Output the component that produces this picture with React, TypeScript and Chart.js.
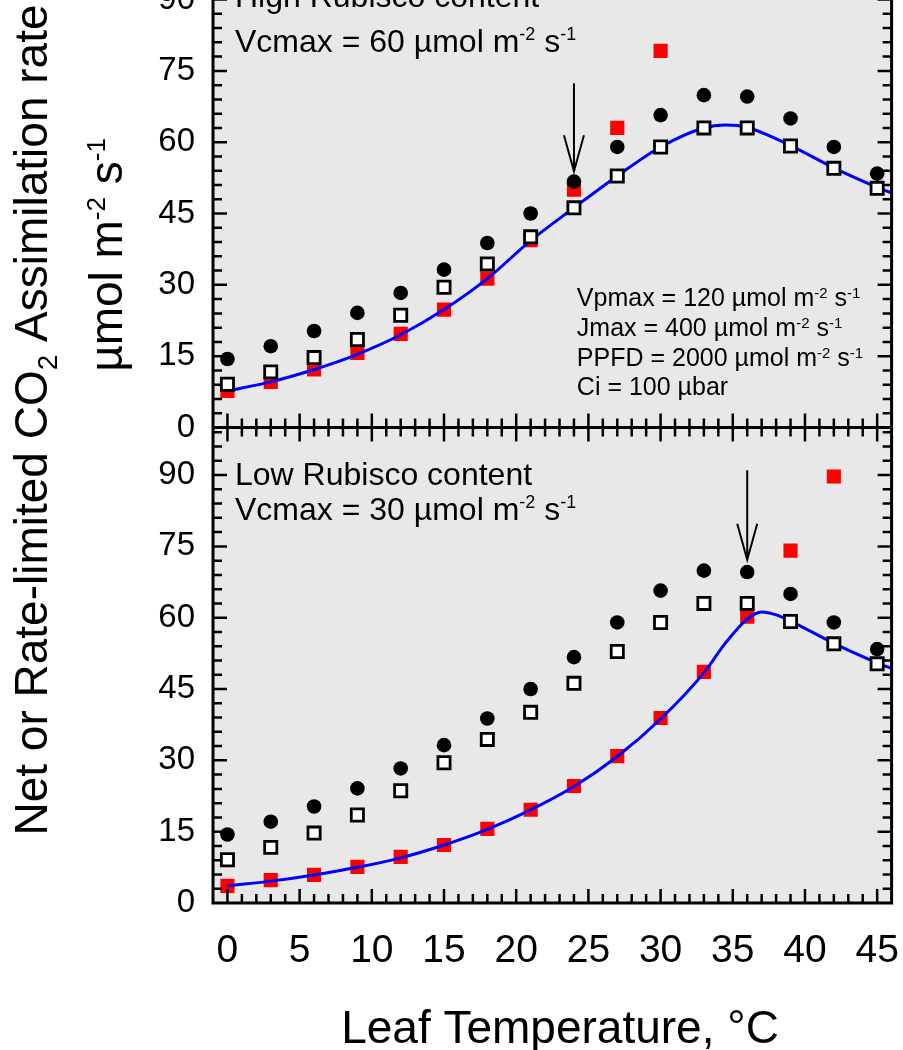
import React, { useEffect, useRef } from 'react';
import { Chart, registerables } from 'chart.js';

Chart.register(...registerables);

const FONT = "'Liberation Sans', Arial, Helvetica, sans-serif";

// ---- data ----
const temps = [0, 3, 6, 9, 12, 15, 18, 21, 24, 27, 30, 33, 36, 39, 42, 45];
const netRate = [14.4, 17.1, 20.3, 24.1, 28.3, 33.2, 38.8, 45.0, 51.7, 59.0, 65.7, 69.9, 69.6, 65.0, 59.0, 53.4];
const otherLimited = [9.1, 11.7, 14.7, 18.5, 23.6, 29.5, 34.4, 40.1, 46.2, 52.9, 59.0, 63.0, 63.0, 59.2, 54.5, 50.3];
const rubiscoHighTemps = [0, 3, 6, 9, 12, 15, 18, 21, 24, 27, 30];
const rubiscoHigh = [7.7, 9.6, 12.2, 15.7, 19.7, 24.8, 31.3, 39.4, 50.0, 63.0, 79.2];
const rubiscoLowTemps = [0, 3, 6, 9, 12, 15, 18, 21, 24, 27, 30, 33, 36, 39, 42];
const rubiscoLow = [3.6, 4.8, 5.9, 7.6, 9.7, 12.2, 15.6, 19.6, 24.6, 30.9, 38.9, 48.6, 60.2, 74.1, 89.7];
const modelHighTemps = [0, 3, 6, 9, 12, 15, 18, 21, 24, 27, 30, 33, 34.5, 36, 39, 42, 45, 46];
const modelHigh = [7.7, 9.6, 12.2, 15.4, 19.5, 24.8, 31.3, 39.3, 46.2, 52.9, 59.0, 63.0, 63.6, 63.1, 59.3, 54.6, 50.5, 49.3];
const modelLowTemps = [0, 3, 6, 9, 12, 15, 18, 21, 24, 27, 30, 33, 34.5, 36, 37, 38, 39, 42, 45, 46];
const modelLow = [3.6, 4.6, 5.9, 7.5, 9.5, 12.2, 15.5, 19.6, 24.5, 30.8, 38.7, 48.4, 54.7, 59.7, 61.2, 60.6, 59.3, 54.6, 50.5, 49.3];

const xTickValues = [0, 5, 10, 15, 20, 25, 30, 35, 40, 45];
const yTickValues = [0, 15, 30, 45, 60, 75, 90];

// arrows: [temperature, from value, to value]
const arrowHigh = [24, 72.4, 53.9];
const arrowLow = [36, 91.0, 72.2];

const labelHigh = ['High Rubisco content', 'Vcmax = 60 µmol m'];
const labelLow = ['Low Rubisco content', 'Vcmax = 30 µmol m'];
const paramLines = ['Vpmax = 120 µmol m', 'Jmax = 400 µmol m', 'PPFD = 2000 µmol m', 'Ci = 100 µbar'];

const xy = (xsArr: number[], ys: number[]) => xsArr.map((x, i) => ({ x, y: ys[i] }));

type Seg = { t: string; s: number; dy?: number };
function drawSegs(ctx: CanvasRenderingContext2D, segs: Seg[], x: number, y: number, align: 'left' | 'center') {
  let w = 0;
  const ws = segs.map((g) => {
    ctx.font = `${g.s}px ${FONT}`;
    const m = ctx.measureText(g.t).width;
    w += m;
    return m;
  });
  let cx = align === 'center' ? x - w / 2 : x;
  ctx.textAlign = 'left';
  ctx.textBaseline = 'alphabetic';
  segs.forEach((g, i) => {
    ctx.font = `${g.s}px ${FONT}`;
    ctx.fillText(g.t, cx, y + (g.dy || 0));
    cx += ws[i];
  });
}

const zeroPad = (s: any) => {
  s.paddingTop = 0;
  s.paddingBottom = 0;
  s.paddingLeft = 0;
  s.paddingRight = 0;
};

const framePlugin = {
  id: 'framePlugin',
  beforeDatasetsDraw(chart: any) {
    const { ctx, chartArea: a } = chart;
    ctx.save();
    ctx.fillStyle = '#e8e8e8';
    ctx.fillRect(a.left, a.top, a.right - a.left, a.bottom - a.top);
    ctx.restore();
  },
  afterDatasetsDraw(chart: any) {
    const { ctx, chartArea: a } = chart;
    const xs = chart.scales.x;
    const yt = chart.scales.yTop;
    const yb = chart.scales.yBot;
    ctx.save();
    ctx.strokeStyle = '#000';
    ctx.fillStyle = '#000';

    // arrows
    ctx.lineWidth = 2;
    const drawArrow = (arr: number[], s: any) => {
      const x = xs.getPixelForValue(arr[0]);
      const y0 = s.getPixelForValue(arr[1]);
      const y1 = s.getPixelForValue(arr[2]);
      ctx.beginPath();
      ctx.moveTo(x, y0);
      ctx.lineTo(x, y1);
      ctx.moveTo(x - 10, y1 - 36);
      ctx.lineTo(x, y1);
      ctx.lineTo(x + 10, y1 - 36);
      ctx.stroke();
    };
    drawArrow(arrowHigh, yt);
    drawArrow(arrowLow, yb);

    // y ticks
    ctx.lineWidth = 2.5;
    ctx.beginPath();
    [yt, yb].forEach((s: any) => {
      for (let v = 3; v < 100; v += 3) {
        const len = v % 15 === 0 ? 14 : 9;
        const y = s.getPixelForValue(v);
        ctx.moveTo(a.left, y);
        ctx.lineTo(a.left + len, y);
        ctx.moveTo(a.right, y);
        ctx.lineTo(a.right - len, y);
      }
    });
    // x ticks
    const mid = yb.top;
    for (let t = 0; t <= 45; t++) {
      const len = t % 5 === 0 ? 14 : 9;
      const x = xs.getPixelForValue(t);
      ctx.moveTo(x, a.bottom);
      ctx.lineTo(x, a.bottom - len);
      ctx.moveTo(x, mid - len);
      ctx.lineTo(x, mid + len);
      ctx.moveTo(x, a.top);
      ctx.lineTo(x, a.top + len);
    }
    ctx.stroke();

    // frame
    ctx.lineWidth = 3;
    ctx.strokeRect(a.left, a.top, a.right - a.left, a.bottom - a.top);
    ctx.beginPath();
    ctx.moveTo(a.left, mid);
    ctx.lineTo(a.right, mid);
    ctx.stroke();

    // panel labels
    const lx = a.left + 22;
    drawSegs(ctx, [{ t: labelHigh[0], s: 32 }], lx, yt.getPixelForValue(88.4), 'left');
    drawSegs(ctx, [{ t: labelHigh[1], s: 32 }, { t: '-2', s: 18, dy: -12 }, { t: ' s', s: 32 }, { t: '-1', s: 18, dy: -12 }], lx, yt.getPixelForValue(79.0), 'left');
    drawSegs(ctx, [{ t: labelLow[0], s: 32 }], lx, yb.getPixelForValue(87.9), 'left');
    drawSegs(ctx, [{ t: labelLow[1], s: 32 }, { t: '-2', s: 18, dy: -12 }, { t: ' s', s: 32 }, { t: '-1', s: 18, dy: -12 }], lx, yb.getPixelForValue(80.6), 'left');

    // parameter box
    const px = xs.getPixelForValue(24.2);
    const pv = [25.6, 19.3, 13.0, 6.8];
    paramLines.forEach((t, i) => {
      const segs: Seg[] = i < 3
        ? [{ t, s: 25 }, { t: '-2', s: 15, dy: -8 }, { t: ' s', s: 25 }, { t: '-1', s: 15, dy: -8 }]
        : [{ t, s: 25 }];
      drawSegs(ctx, segs, px, yt.getPixelForValue(pv[i]), 'left');
    });
    ctx.restore();
  },
  afterDraw(chart: any) {
    const { ctx } = chart;
    ctx.save();
    ctx.fillStyle = '#000';
    // x title
    drawSegs(ctx, [{ t: 'Leaf Temperature, °C', s: 46 }], 560, 1103, 'center');
    // y title
    ctx.translate(47, 480);
    ctx.rotate(-Math.PI / 2);
    drawSegs(ctx, [{ t: 'Net or Rate-limited CO', s: 46 }, { t: '2', s: 28, dy: 10 }, { t: ' Assimilation rate', s: 46 }], 0, 0, 'center');
    ctx.restore();
    ctx.save();
    ctx.fillStyle = '#000';
    ctx.translate(122, 315);
    ctx.rotate(-Math.PI / 2);
    drawSegs(ctx, [{ t: 'µmol m', s: 46 }, { t: '-2', s: 26, dy: -17 }, { t: ' s', s: 46 }, { t: '-1', s: 26, dy: -17 }], 0, 0, 'center');
    ctx.restore();
  },
};

const yScale = () => ({
  type: 'linear',
  min: 0,
  max: 100,
  position: 'left',
  stack: 'panels',
  stackWeight: 1,
  afterBuildTicks: (s: any) => {
    s.ticks = yTickValues.map((v) => ({ value: v }));
  },
  afterFit: (s: any) => {
    s.width = 213;
    zeroPad(s);
  },
  grid: { display: false, drawTicks: false },
  border: { display: false },
  ticks: { font: { family: FONT, size: 33 }, color: '#000', padding: 18, autoSkip: false },
});

export default function App() {
  const ref = useRef<HTMLCanvasElement>(null);
  useEffect(() => {
    const chart = new Chart(ref.current as HTMLCanvasElement, {
      type: 'scatter',
      data: {
        datasets: [
          // top panel
          { data: xy(temps, netRate), yAxisID: 'yTop', order: 0, pointStyle: 'circle', pointRadius: 7.3, backgroundColor: '#000', borderWidth: 0 },
          { data: xy(temps, otherLimited), yAxisID: 'yTop', order: 1, pointStyle: 'rect', pointRadius: 8.6, backgroundColor: '#fff', borderColor: '#000', borderWidth: 2.8 },
          { data: xy(modelHighTemps, modelHigh), yAxisID: 'yTop', order: 2, showLine: true, pointRadius: 0, borderColor: '#0000ff', borderWidth: 3, cubicInterpolationMode: 'monotone' },
          { data: xy(rubiscoHighTemps, rubiscoHigh), yAxisID: 'yTop', order: 3, pointStyle: 'rect', pointRadius: 10, backgroundColor: '#ff0000', borderWidth: 0 },
          // bottom panel
          { data: xy(temps, netRate), yAxisID: 'yBot', order: 0, pointStyle: 'circle', pointRadius: 7.3, backgroundColor: '#000', borderWidth: 0 },
          { data: xy(temps, otherLimited), yAxisID: 'yBot', order: 1, pointStyle: 'rect', pointRadius: 8.6, backgroundColor: '#fff', borderColor: '#000', borderWidth: 2.8 },
          { data: xy(modelLowTemps, modelLow), yAxisID: 'yBot', order: 2, showLine: true, pointRadius: 0, borderColor: '#0000ff', borderWidth: 3, cubicInterpolationMode: 'monotone' },
          { data: xy(rubiscoLowTemps, rubiscoLow), yAxisID: 'yBot', order: 3, pointStyle: 'rect', pointRadius: 10, backgroundColor: '#ff0000', borderWidth: 0 },
        ] as any,
      },
      options: {
        responsive: false,
        animation: false,
        events: [],
        layout: { padding: { left: 0, right: 7, top: 12, bottom: 0 } },
        plugins: { legend: { display: false }, tooltip: { enabled: false } },
        elements: { point: { hoverRadius: 0 } },
        scales: {
          x: {
            type: 'linear',
            min: -1,
            max: 46,
            position: 'bottom',
            afterBuildTicks: (s: any) => {
              s.ticks = xTickValues.map((v) => ({ value: v }));
            },
            afterFit: (s: any) => {
              s.height = 147;
              zeroPad(s);
            },
            grid: { display: false, drawTicks: false },
            border: { display: false },
            ticks: { font: { family: FONT, size: 39 }, color: '#000', padding: 25, autoSkip: false, maxRotation: 0 },
          },
          yBot: yScale(),
          yTop: yScale(),
        } as any,
      },
      plugins: [framePlugin],
    });
    return () => chart.destroy();
  }, []);
  return (
    <canvas
      ref={ref}
      width={903}
      height={1110}
      style={{ position: 'absolute', left: 0, top: -60, width: 903, height: 1110, display: 'block' }}
    />
  );
}
